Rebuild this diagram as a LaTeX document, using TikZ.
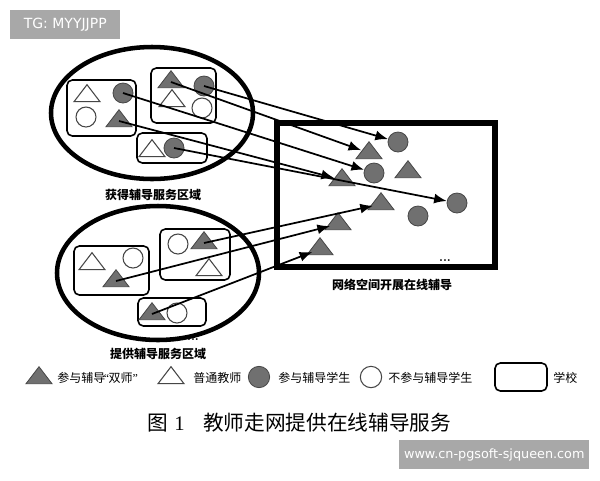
\documentclass[tikz,border=0pt]{standalone}
\usepackage{fontspec}
\newfontfamily\cjk{Noto Sans CJK SC}
\newfontfamily\wmfont{DejaVu Sans}
\newfontfamily\numfont{Liberation Serif}
\usetikzlibrary{arrows.meta}
\definecolor{shapegray}{RGB}{112,112,112}
\definecolor{edgegray}{RGB}{70,70,70}
\definecolor{wmgray}{RGB}{168,168,168}
\tikzset{
  region/.style={draw, line width=3.4pt},
  onlinebox/.style={draw, line width=3.9pt},
  school/.style={draw, line width=1.2pt, rounded corners=4pt},
  fcirc/.style={circle, draw=edgegray, fill=shapegray, line width=0.6pt, minimum size=15pt, inner sep=0pt},
  ocirc/.style={circle, draw=edgegray, fill=white, line width=0.8pt, minimum size=15pt, inner sep=0pt},
  trihit/.style={circle, inner sep=0pt, minimum size=12pt},
  conn/.style={line width=1.3pt, -{Latex[length=9.5pt,width=7.5pt]}},
  lab/.style={font=\cjk\bfseries\fontsize{9}{10}\selectfont, inner sep=0pt},
  leg/.style={font=\cjk\fontsize{9}{10}\selectfont, anchor=west, inner sep=0pt},
  wm/.style={fill=wmgray, text=white, inner sep=0pt, anchor=north west, minimum height=21.75pt},
}
\newcommand\FilledTri[2]{\filldraw[draw=edgegray, fill=shapegray, line width=0.6pt, shift={(#2)}] (0,-11.3) -- (13,5.7) -- (-13,5.7) -- cycle; \node[trihit] (#1) at (#2) {};}
\newcommand\OpenTri[2]{\filldraw[draw=edgegray, fill=white, line width=0.8pt, shift={(#2)}] (0,-11.3) -- (13,5.7) -- (-13,5.7) -- cycle; \node[trihit] (#1) at (#2) {};}
\begin{document}
\begin{tikzpicture}[x=0.75pt,y=-0.75pt]
\useasboundingbox (0,0) rectangle (600,480);
\fill[white] (0,0) rectangle (600,480);

% watermarks
\node[wm, minimum width=82.5pt, font=\wmfont\fontsize{10.5}{12}\selectfont] (wmtop) at (10,10) {TG: MYYJJPP};
\node[wm, minimum width=142.5pt, font=\wmfont\fontsize{9.6}{11}\selectfont] (wmbot) at (399,440) {www.cn-pgsoft-sjqueen.com};

% regions
\draw[region] (152,113) ellipse [x radius=101, y radius=66];
\draw[region] (158,273) ellipse [x radius=101, y radius=67];
\draw[onlinebox] (277,123) rectangle (495,267);

% schools (top)
\draw[school] (67,80) rectangle (136,136);
\draw[school] (151,68) rectangle (216,123);
\draw[school] (137,133) rectangle (207,163);
% schools (bottom)
\draw[school] (74,246) rectangle (149,295);
\draw[school] (160,229) rectangle (230,280);
\draw[school] (138,298) rectangle (206,326);

% top region members
\OpenTri{tlot}{87,96}
\node[fcirc] (tlfc) at (123,93) {};
\node[ocirc] (tloc) at (86,117) {};
\FilledTri{tlft}{119,121}
\FilledTri{trft}{171,82}
\node[fcirc] (trfc) at (204,86) {};
\OpenTri{trot}{172,101}
\node[ocirc] (troc) at (202,108) {};
\OpenTri{tbot}{152,151}
\node[fcirc] (tbfc) at (174,148) {};

% bottom region members
\OpenTri{blot}{92,264}
\node[ocirc] (bloc) at (133,258) {};
\FilledTri{blft}{116,281}
\node[ocirc] (broc) at (178,244) {};
\FilledTri{brft}{204,243}
\OpenTri{brot}{209,270}
\FilledTri{bbft}{152,314}
\node[ocirc] (bboc) at (177,313) {};

% online members
\node[fcirc] (onA) at (398,142) {};
\FilledTri{onB}{369,153}
\node[fcirc] (onC) at (374,173) {};
\FilledTri{onD}{408,172}
\FilledTri{onE}{342,180}
\node[fcirc] (onF) at (457,203) {};
\FilledTri{onG}{381,204}
\node[fcirc] (onH) at (418,216) {};
\FilledTri{onI}{338,224}
\FilledTri{onJ}{320,249}

% connectors
\draw[conn] (trfc.center) -- (onA);
\draw[conn] (trft.center) -- (onB);
\draw[conn] (tlfc.center) -- (onC);
\draw[conn] (tlft.center) -- (onE);
\draw[conn] (tbfc.center) -- (onF);
\draw[conn] (brft.center) -- (onG);
\draw[conn] (blft.center) -- (onI);
\draw[conn] (bbft.center) -- (onJ);

% dots
\node[font=\bfseries\fontsize{9}{9}\selectfont, inner sep=0pt] (dotson) at (445,261) {...};
\node[font=\bfseries\fontsize{9}{9}\selectfont, inner sep=0pt] (dotsbot) at (193,340) {...};

% labels
\node[lab] (labtop) at (153,195) {获得辅导服务区域};
\node[lab] (labon) at (392,285) {网络空间开展在线辅导};
\node[lab] (labbot) at (158,354) {提供辅导服务区域};

% legend
\FilledTri{legft}{39,378}
\node[leg] (legft-t) at (57,378) {参与辅导\kern-1pt{\numfont“}\kern-0.5pt 双师{\numfont”}};
\OpenTri{legot}{171,378}
\node[leg] (legot-t) at (193,378) {普通教师};
\node[fcirc, minimum size=16pt] (legfc) at (259,377) {};
\node[leg] (legfc-t) at (278,378) {参与辅导学生};
\node[ocirc, minimum size=16pt] (legoc) at (371,377) {};
\node[leg] (legoc-t) at (388,378) {不参与辅导学生};
\draw[school] (495,363) rectangle (547,391);
\node[leg] (legsc-t) at (553,378) {学校};

% caption
\node[anchor=west, inner sep=0pt, font=\cjk\fontsize{15.5}{18}\selectfont] (capfig) at (147,423) {图};
\node[anchor=west, inner sep=0pt, font=\numfont\fontsize{15.5}{18}\selectfont] (capnum) at (174,424) {1};
\node[anchor=west, inner sep=0pt, font=\cjk\fontsize{15.5}{18}\selectfont] (captext) at (203,423) {教师走网提供在线辅导服务};
\end{tikzpicture}
\end{document}
